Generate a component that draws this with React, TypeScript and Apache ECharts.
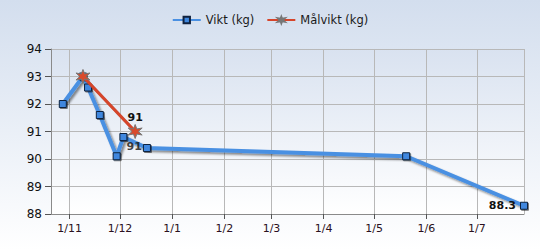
import React, { useEffect, useRef } from "react";
import * as echarts from "echarts";

const viktDates = ["2010-10-28", "2010-11-09", "2010-11-12", "2010-11-19", "2010-11-29", "2010-12-03", "2010-12-17", "2011-05-20", "2011-07-29"];
const viktValues = [92.0, 93.0, 92.6, 91.6, 90.1, 90.8, 90.4, 90.1, 88.3];
const malDates = ["2010-11-09", "2010-12-10"];
const malValues = [93.0, 91.0];
const xRange = ["2010-10-21", "2011-07-29"];
const yRange = [88, 94];
const seriesNames = ["Vikt (kg)", "Målvikt (kg)"];

const toTime = (s: string) => {
  const [y, m, d] = s.split("-").map(Number);
  return new Date(y, m - 1, d).getTime();
};

const STAR =
  "path://M50,0 L61,32 L95,25 L70,50 L95,75 L61,68 L50,100 L39,68 L5,75 L30,50 L5,25 L39,32 Z";

export default function App() {
  const ref = useRef<HTMLDivElement>(null);
  useEffect(() => {
    if (!ref.current) return;
    const chart = echarts.init(ref.current, null, { renderer: "svg" });
    const font = "DejaVu Sans";
    const vikt = viktDates.map((d, i) => [toTime(d), viktValues[i]]);
    const mal = malDates.map((d, i) => [toTime(d), malValues[i]]);
    const lastMal = mal[mal.length - 1];
    chart.setOption({
      animation: false,
      backgroundColor: {
        type: "linear", x: 0, y: 0, x2: 0, y2: 1,
        colorStops: [{ offset: 0, color: "#d3deee" }, { offset: 1, color: "#ffffff" }],
      },
      textStyle: { fontFamily: font },
      legend: {
        top: 9,
        left: "center",
        data: seriesNames,
        itemWidth: 28,
        itemHeight: 8,
        itemGap: 12,
        textStyle: { fontFamily: font, fontSize: 11.5, color: "#1a1a1a" },
      },
      grid: {
        left: 51, right: 16, top: 49, bottom: 36,
        show: true,
        borderWidth: 0,
        backgroundColor: {
          type: "linear", x: 0, y: 0, x2: 0, y2: 1,
          colorStops: [{ offset: 0, color: "#d9e2f0" }, { offset: 1, color: "#ffffff" }],
        },
      },
      xAxis: {
        type: "time",
        min: toTime(xRange[0]),
        max: toTime(xRange[1]),
        splitNumber: 9,
        minInterval: 28 * 86400000,
        maxInterval: 31 * 86400000,
        axisLine: { show: true, lineStyle: { color: "#8a8a8a" } },
        axisTick: { show: true, length: 5, lineStyle: { color: "#555" } },
        splitLine: { show: true, lineStyle: { color: "#b8b8b8" } },
        axisLabel: {
          fontFamily: font,
          fontSize: 11,
          color: "#2a1020",
          margin: 9,
          showMinLabel: false,
          showMaxLabel: false,
          hideOverlap: false,
          formatter: (v: number) => {
            const d = new Date(v);
            return d.getDate() + "/" + (d.getMonth() + 1);
          },
        },
      },
      yAxis: {
        type: "value",
        min: yRange[0],
        max: yRange[1],
        interval: 1,
        axisLine: { show: true, lineStyle: { color: "#8a8a8a" } },
        axisTick: { show: true, length: 6, lineStyle: { color: "#555" } },
        splitLine: { show: true, lineStyle: { color: "#b8b8b8" } },
        axisLabel: { fontFamily: font, fontSize: 12, color: "#111", margin: 9 },
      },
      series: [
        {
          name: seriesNames[0],
          type: "line",
          data: vikt,
          symbol: "rect",
          symbolSize: 7,
          lineStyle: {
            color: "#4a90e2", width: 4,
            shadowColor: "rgba(0,0,0,0.45)", shadowOffsetX: 2, shadowOffsetY: 2, shadowBlur: 2,
          },
          itemStyle: {
            color: "#3f87de", borderColor: "#10223f", borderWidth: 1,
            shadowColor: "rgba(0,0,0,0.5)", shadowOffsetX: 1, shadowOffsetY: 1, shadowBlur: 1,
          },
          label: {
            show: true,
            position: "left",
            distance: 4,
            fontFamily: font,
            fontSize: 11,
            fontWeight: "bold",
            color: "#111",
            formatter: (p: any) => (p.dataIndex === vikt.length - 1 ? String(p.value[1]) : ""),
          },
          z: 2,
        },
        {
          name: seriesNames[1],
          type: "line",
          data: mal,
          symbol: STAR,
          symbolSize: 14,
          lineStyle: {
            color: "#d6452b", width: 3,
            shadowColor: "rgba(0,0,0,0.45)", shadowOffsetX: 1, shadowOffsetY: 1, shadowBlur: 1,
          },
          itemStyle: { color: "#d94a2c", borderColor: "#777", borderWidth: 1 },
          label: {
            show: true,
            position: "top",
            distance: 1,
            fontFamily: font,
            fontSize: 11,
            fontWeight: "bold",
            color: "#111",
            formatter: (p: any) => (p.dataIndex === mal.length - 1 ? String(p.value[1]) : ""),
          },
          z: 3,
        },
        {
          name: "label",
          type: "scatter",
          data: [lastMal],
          symbolSize: 1,
          itemStyle: { color: "rgba(0,0,0,0)" },
          label: {
            show: true,
            position: "bottom",
            distance: 9,
            offset: [-1, 0],
            fontFamily: font,
            fontSize: 11,
            fontWeight: "bold",
            color: "#111",
            formatter: (p: any) => String(p.value[1]),
          },
          silent: true,
          z: 4,
        },
      ],
    });
    return () => chart.dispose();
  }, []);
  return (
    <div
      ref={ref}
      style={{ position: "absolute", left: 0, top: 0, width: 540, height: 250 }}
    />
  );
}
